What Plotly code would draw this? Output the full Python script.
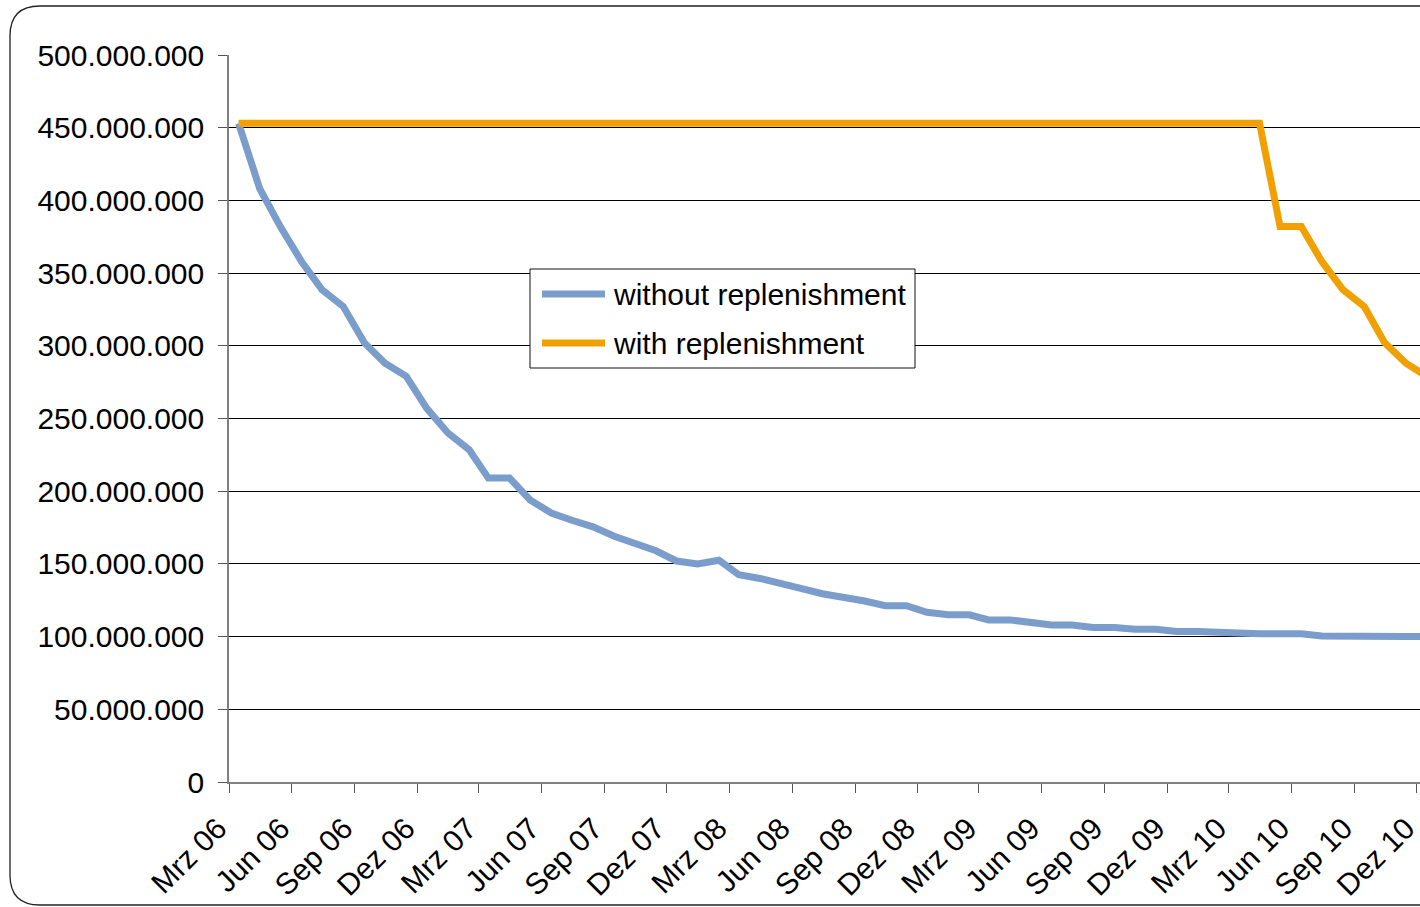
import pandas as pd
import plotly.graph_objects as go

# Monthly observation dates (mid-month), March 2006 to December 2010
months = pd.date_range("2006-03-01", "2010-12-01", freq="MS") + pd.Timedelta(days=14)

# Balance without replenishment (millions)
without_repl_mio = [
    453, 408, 382, 358, 338.5, 327, 302, 288, 279, 257,
    240, 228.5, 209, 209, 194, 185, 180, 175.5, 169, 164, 159, 152,
    150, 152.5, 142.5, 140, 137, 133, 129.5, 127.5, 124.5, 121.3, 121.3, 116.7,
    115, 115, 111.5, 111.5, 109.5, 108, 108, 106.3, 106.3, 105, 105, 103.5,
    103.5, 103.5, 102.5, 102, 102, 102, 100.4, 100, 100, 100, 100, 100,
]

# Balance with replenishment (millions)
with_repl_mio = [453] * 50 + [382, 382, 358, 338.5, 327, 302, 288, 279]

# Axis ticks: one every quarter
tick_dates = pd.date_range("2006-03-01", "2010-12-01", freq="3MS")
tick_text = [
    "Mrz 06", "Jun 06", "Sep 06", "Dez 06",
    "Mrz 07", "Jun 07", "Sep 07", "Dez 07",
    "Mrz 08", "Jun 08", "Sep 08", "Dez 08",
    "Mrz 09", "Jun 09", "Sep 09", "Dez 09",
    "Mrz 10", "Jun 10", "Sep 10", "Dez 10",
]

series_names = ["without replenishment", "with replenishment"]
BLUE = "#7B9DCB"
ORANGE = "#F0A000"
FONT = "Liberation Sans, Arial, sans-serif"

W, H = 1420, 907
ML, MR, MT, MB = 229, 0, 55, 125
PW, PH = W - ML - MR, H - MT - MB


def px_x(px):
    return (px - ML) / PW


def px_y(py):
    return (H - MB - py) / PH


fig = go.Figure()
fig.add_trace(go.Scatter(
    x=months, y=[v * 1e6 for v in without_repl_mio], mode="lines",
    name=series_names[0], line=dict(color=BLUE, width=7), showlegend=False,
))
fig.add_trace(go.Scatter(
    x=months, y=[v * 1e6 for v in with_repl_mio], mode="lines",
    name=series_names[1], line=dict(color=ORANGE, width=7), showlegend=False,
))

shapes = []
# Rounded outer frame
l, t, b, r = px_x(10), px_y(6), px_y(905), px_x(1440)
rx, ry = 30 / PW, 30 / PH
frame_path = (
    f"M {r},{t} L {l + rx},{t} Q {l},{t} {l},{t - ry} "
    f"L {l},{b + ry} Q {l},{b} {l + rx},{b} L {r},{b}"
)
shapes.append(dict(type="path", xref="paper", yref="paper", path=frame_path,
                   line=dict(color="#222222", width=1.3), layer="above"))

# Legend box
shapes.append(dict(type="rect", xref="paper", yref="paper",
                   x0=px_x(530), x1=px_x(915), y0=px_y(368), y1=px_y(269),
                   fillcolor="white", line=dict(color="#111111", width=1),
                   layer="above"))
annotations = []
for name, color, py in zip(series_names, [BLUE, ORANGE], [294, 343]):
    shapes.append(dict(type="line", xref="paper", yref="paper",
                       x0=px_x(542), x1=px_x(605), y0=px_y(py), y1=px_y(py),
                       line=dict(color=color, width=7), layer="above"))
    annotations.append(dict(xref="paper", yref="paper", x=px_x(611), y=px_y(py),
                            text=name, showarrow=False, xanchor="left",
                            yanchor="middle",
                            font=dict(family=FONT, size=30, color="#000000")))

fig.update_layout(
    width=W, height=H,
    margin=dict(l=ML, r=MR, t=MT, b=MB, autoexpand=False),
    paper_bgcolor="white", plot_bgcolor="white",
    separators=",.",
    font=dict(family=FONT, size=30, color="#000000"),
    shapes=shapes, annotations=annotations,
)
fig.update_xaxes(
    range=[pd.Timestamp("2006-03-01"), pd.Timestamp("2010-12-05 12:00")],
    tickmode="array", tickvals=tick_dates, ticktext=tick_text,
    tickangle=-45, ticks="outside", ticklen=9, tickcolor="#555555", tickwidth=1,
    ticklabeloverflow="allow", ticklabelstandoff=6, ticklabelshift=-11,
    automargin=False,
    showline=True, linecolor="#808080", linewidth=1.5,
    showgrid=False, zeroline=False,
    tickfont=dict(family=FONT, size=30, color="#000000"),
)
fig.update_yaxes(
    range=[0, 500e6], dtick=50e6, tick0=0, tickformat=",d",
    ticks="outside", ticklen=9, tickcolor="#555555", tickwidth=1,
    ticklabelstandoff=8, automargin=False,
    showline=True, linecolor="#808080", linewidth=1.5,
    showgrid=True, gridcolor="#000000", gridwidth=1, zeroline=False,
    tickfont=dict(family=FONT, size=30, color="#000000"),
)

fig.write_html("out.html")
